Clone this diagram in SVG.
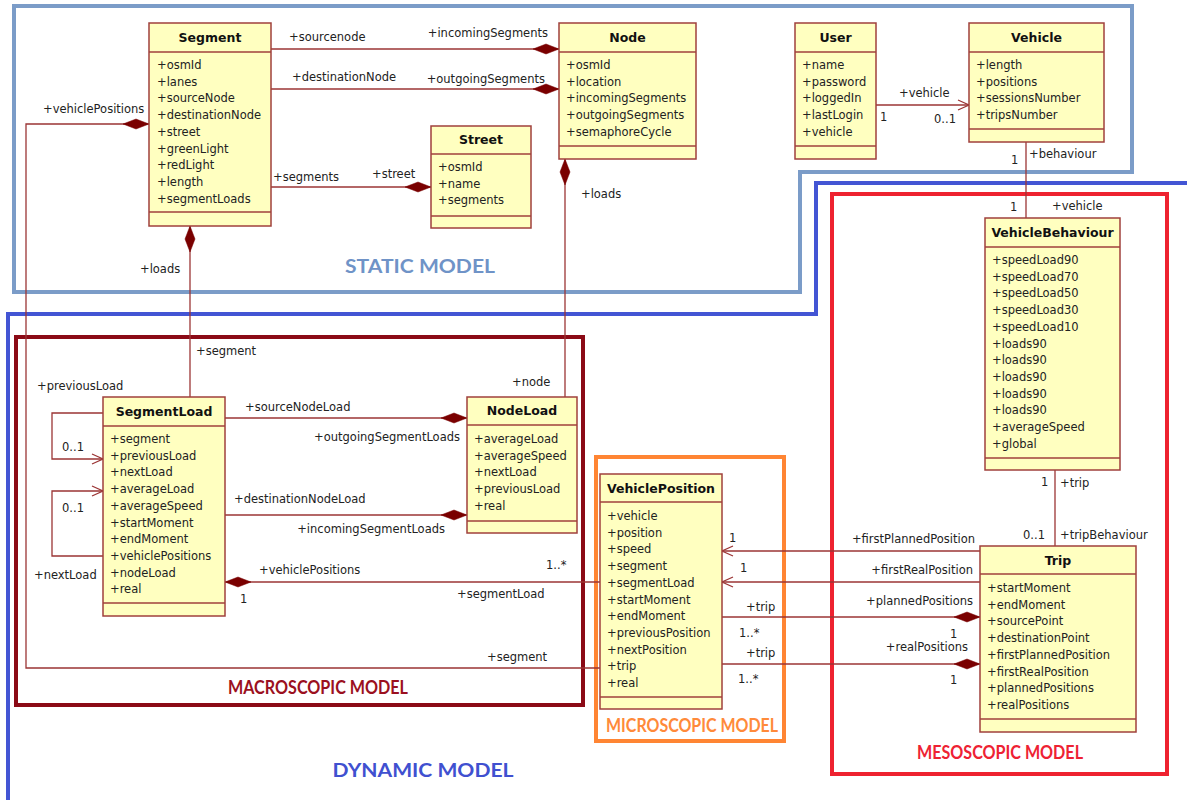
<svg xmlns="http://www.w3.org/2000/svg" width="1187" height="800" viewBox="0 0 1187 800">
<style>
.bg{fill:#ffffff}
.frame{fill:none;stroke-width:4}
.ft{font-family:Lato,"Liberation Sans",sans-serif;font-weight:bold;font-size:18px;text-anchor:middle}
.box{fill:#ffffc0;stroke:#a0403c;stroke-width:1.5}
.sep{stroke:#a0403c;stroke-width:1.5}
.t{font-family:"DejaVu Sans",Verdana,sans-serif;font-size:11.5px;fill:#222}
.h{font-weight:bold;font-size:12.5px;text-anchor:middle;fill:#111}
.e{text-anchor:end}
.c{fill:none;stroke:#9b3535;stroke-width:1.3}
.dm{marker-end:url(#diamond)}
.ar{marker-end:url(#arrow)}
</style>
<defs>
<marker id="diamond" markerUnits="userSpaceOnUse" markerWidth="26" markerHeight="12" viewBox="0 0 26 12" refX="26" refY="6" orient="auto">
<path d="M0,6 L13,1 L26,6 L13,11 Z" fill="#7a0000" stroke="#7a0000" stroke-width="0.5"/>
</marker>
<marker id="arrow" markerUnits="userSpaceOnUse" markerWidth="14" markerHeight="12" viewBox="0 0 14 12" refX="12" refY="6" orient="auto">
<path d="M1,1 L12,6 L1,11" fill="none" stroke="#9b3535" stroke-width="1.3"/>
</marker>
</defs>
<rect class="bg" x="0" y="0" width="1187" height="800"/>

<g id="frames">
<polygon class="frame" stroke="#7b9cc8" points="14,6 1132,6 1132,172 800,172 800,292 14,292"/>
<text class="ft" x="420" y="273" fill="#6f93c7" textLength="150" lengthAdjust="spacingAndGlyphs">STATIC MODEL</text>
<polyline class="frame" stroke="#4355d4" points="1187,183 816,183 816,314 8,314 8,800"/>
<text class="ft" x="423" y="777" fill="#4050d0" textLength="181" lengthAdjust="spacingAndGlyphs">DYNAMIC MODEL</text>
<rect class="frame" stroke="#8b0a16" x="16" y="337" width="567" height="368"/>
<text class="ft" x="318" y="694" fill="#9b1020" font-size="16px" textLength="180" lengthAdjust="spacingAndGlyphs">MACROSCOPIC MODEL</text>
<rect class="frame" stroke="#ff8533" x="596" y="457" width="188" height="284"/>
<text class="ft" x="692" y="732" fill="#ff8a3a" font-size="16px" textLength="172" lengthAdjust="spacingAndGlyphs">MICROSCOPIC MODEL</text>
<rect class="frame" stroke="#ee2230" x="832" y="194" width="335" height="580"/>
<text class="ft" x="1000" y="759" fill="#ee2233" font-size="16px" textLength="166" lengthAdjust="spacingAndGlyphs">MESOSCOPIC MODEL</text>
</g>

<g id="connectors">
<path class="c dm" d="M271,49 H559"/>
<path class="c dm" d="M271,89 H559"/>
<path class="c dm" d="M271,187 H431"/>
<path class="c dm" d="M190,397 V226"/>
<path class="c dm" d="M565,397 V159"/>
<path class="c ar" d="M876,105 H969"/>
<path class="c" d="M1026,142 V218"/>
<path class="c" d="M1055,470 V546"/>
<path class="c ar" d="M980,551 H722"/>
<path class="c ar" d="M980,582 H722"/>
<path class="c dm" d="M722,617 H980"/>
<path class="c dm" d="M722,664 H980"/>
<path class="c dm" d="M600,582 H225"/>
<path class="c dm" d="M600,668 H26 V124 H149"/>
<path class="c dm" d="M225,418 H467"/>
<path class="c dm" d="M225,515 H467"/>
<path class="c ar" d="M103,413 H52 V459 H103"/>
<path class="c ar" d="M103,556 H52 V491 H103"/>
<g class="t">
<text x="289" y="41">+sourcenode</text>
<text class="e" x="548" y="37">+incomingSegments</text>
<text x="292" y="81">+destinationNode</text>
<text class="e" x="545" y="83">+outgoingSegments</text>
<text x="273" y="181">+segments</text>
<text x="372" y="178">+street</text>
<text x="140" y="273">+loads</text>
<text x="43" y="113">+vehiclePositions</text>
<text x="581" y="198">+loads</text>
<text x="899" y="97">+vehicle</text>
<text x="880" y="121">1</text>
<text x="934" y="123">0..1</text>
<text x="1011" y="164">1</text>
<text x="1029" y="158">+behaviour</text>
<text x="1010" y="211">1</text>
<text x="1052" y="210">+vehicle</text>
<text x="1041" y="486">1</text>
<text x="1060" y="487">+trip</text>
<text x="1023" y="539">0..1</text>
<text x="1060" y="539">+tripBehaviour</text>
<text class="e" x="975" y="543">+firstPlannedPosition</text>
<text x="729" y="542">1</text>
<text class="e" x="973" y="574">+firstRealPosition</text>
<text x="740" y="572">1</text>
<text class="e" x="973" y="605">+plannedPositions</text>
<text x="950" y="638">1</text>
<text class="e" x="968" y="651">+realPositions</text>
<text x="950" y="684">1</text>
<text x="746" y="611">+trip</text>
<text x="739" y="637">1..*</text>
<text x="746" y="657">+trip</text>
<text x="738" y="683">1..*</text>
<text x="259" y="574">+vehiclePositions</text>
<text x="240" y="603">1</text>
<text x="546" y="569">1..*</text>
<text x="457" y="598">+segmentLoad</text>
<text x="487" y="661">+segment</text>
<text x="245" y="411">+sourceNodeLoad</text>
<text class="e" x="460" y="441">+outgoingSegmentLoads</text>
<text x="234" y="503">+destinationNodeLoad</text>
<text class="e" x="445" y="533">+incomingSegmentLoads</text>
<text x="512" y="386">+node</text>
<text x="196" y="355">+segment</text>
<text x="37" y="390">+previousLoad</text>
<text x="62" y="451">0..1</text>
<text x="62" y="512">0..1</text>
<text x="34" y="579">+nextLoad</text>
</g>
</g>

<g id="Segment">
<rect class="box" x="149" y="23" width="122" height="203"/>
<line class="sep" x1="149" y1="52" x2="271" y2="52"/>
<line class="sep" x1="149" y1="212" x2="271" y2="212"/>
<text class="t h" x="210" y="42">Segment</text>
<g class="t">
<text x="157" y="69">+osmId</text>
<text x="157" y="85.7">+lanes</text>
<text x="157" y="102.4">+sourceNode</text>
<text x="157" y="119.1">+destinationNode</text>
<text x="157" y="135.8">+street</text>
<text x="157" y="152.5">+greenLight</text>
<text x="157" y="169.2">+redLight</text>
<text x="157" y="185.9">+length</text>
<text x="157" y="202.6">+segmentLoads</text>
</g>
</g>

<g id="Node">
<rect class="box" x="559" y="23" width="137" height="136"/>
<line class="sep" x1="559" y1="52" x2="696" y2="52"/>
<line class="sep" x1="559" y1="146" x2="696" y2="146"/>
<text class="t h" x="627.5" y="42">Node</text>
<g class="t">
<text x="566" y="69">+osmId</text>
<text x="566" y="85.7">+location</text>
<text x="566" y="102.4">+incomingSegments</text>
<text x="566" y="119.1">+outgoingSegments</text>
<text x="566" y="135.8">+semaphoreCycle</text>
</g>
</g>

<g id="Street">
<rect class="box" x="431" y="126" width="100" height="102"/>
<line class="sep" x1="431" y1="154" x2="531" y2="154"/>
<line class="sep" x1="431" y1="216" x2="531" y2="216"/>
<text class="t h" x="481" y="144">Street</text>
<g class="t">
<text x="438" y="171">+osmId</text>
<text x="438" y="187.7">+name</text>
<text x="438" y="204.4">+segments</text>
</g>
</g>

<g id="User">
<rect class="box" x="795" y="23" width="81" height="136"/>
<line class="sep" x1="795" y1="52" x2="876" y2="52"/>
<line class="sep" x1="795" y1="146" x2="876" y2="146"/>
<text class="t h" x="835.5" y="42">User</text>
<g class="t">
<text x="802" y="69">+name</text>
<text x="802" y="85.7">+password</text>
<text x="802" y="102.4">+loggedIn</text>
<text x="802" y="119.1">+lastLogin</text>
<text x="802" y="135.8">+vehicle</text>
</g>
</g>

<g id="Vehicle">
<rect class="box" x="969" y="23" width="135" height="119"/>
<line class="sep" x1="969" y1="52" x2="1104" y2="52"/>
<line class="sep" x1="969" y1="129" x2="1104" y2="129"/>
<text class="t h" x="1036.5" y="42">Vehicle</text>
<g class="t">
<text x="976" y="69">+length</text>
<text x="976" y="85.7">+positions</text>
<text x="976" y="102.4">+sessionsNumber</text>
<text x="976" y="119.1">+tripsNumber</text>
</g>
</g>

<g id="VehicleBehaviour">
<rect class="box" x="985" y="218" width="135" height="252"/>
<line class="sep" x1="985" y1="247" x2="1120" y2="247"/>
<line class="sep" x1="985" y1="458" x2="1120" y2="458"/>
<text class="t h" x="1052.5" y="237">VehicleBehaviour</text>
<g class="t">
<text x="992" y="264">+speedLoad90</text>
<text x="992" y="280.7">+speedLoad70</text>
<text x="992" y="297.4">+speedLoad50</text>
<text x="992" y="314.1">+speedLoad30</text>
<text x="992" y="330.8">+speedLoad10</text>
<text x="992" y="347.5">+loads90</text>
<text x="992" y="364.2">+loads90</text>
<text x="992" y="380.9">+loads90</text>
<text x="992" y="397.6">+loads90</text>
<text x="992" y="414.3">+loads90</text>
<text x="992" y="431">+averageSpeed</text>
<text x="992" y="447.7">+global</text>
</g>
</g>

<g id="Trip">
<rect class="box" x="980" y="546" width="156" height="186"/>
<line class="sep" x1="980" y1="574" x2="1136" y2="574"/>
<line class="sep" x1="980" y1="719" x2="1136" y2="719"/>
<text class="t h" x="1058" y="565">Trip</text>
<g class="t">
<text x="987" y="592">+startMoment</text>
<text x="987" y="608.7">+endMoment</text>
<text x="987" y="625.4">+sourcePoint</text>
<text x="987" y="642.1">+destinationPoint</text>
<text x="987" y="658.8">+firstPlannedPosition</text>
<text x="987" y="675.5">+firstRealPosition</text>
<text x="987" y="692.2">+plannedPositions</text>
<text x="987" y="708.9">+realPositions</text>
</g>
</g>

<g id="SegmentLoad">
<rect class="box" x="103" y="397" width="122" height="219"/>
<line class="sep" x1="103" y1="426" x2="225" y2="426"/>
<line class="sep" x1="103" y1="603" x2="225" y2="603"/>
<text class="t h" x="164" y="416">SegmentLoad</text>
<g class="t">
<text x="110" y="443">+segment</text>
<text x="110" y="459.7">+previousLoad</text>
<text x="110" y="476.4">+nextLoad</text>
<text x="110" y="493.1">+averageLoad</text>
<text x="110" y="509.8">+averageSpeed</text>
<text x="110" y="526.5">+startMoment</text>
<text x="110" y="543.2">+endMoment</text>
<text x="110" y="559.9">+vehiclePositions</text>
<text x="110" y="576.6">+nodeLoad</text>
<text x="110" y="593.3">+real</text>
</g>
</g>

<g id="NodeLoad">
<rect class="box" x="467" y="397" width="110" height="136"/>
<line class="sep" x1="467" y1="425" x2="577" y2="425"/>
<line class="sep" x1="467" y1="521" x2="577" y2="521"/>
<text class="t h" x="522" y="415">NodeLoad</text>
<g class="t">
<text x="474" y="443">+averageLoad</text>
<text x="474" y="459.7">+averageSpeed</text>
<text x="474" y="476.4">+nextLoad</text>
<text x="474" y="493.1">+previousLoad</text>
<text x="474" y="509.8">+real</text>
</g>
</g>

<g id="VehiclePosition">
<rect class="box" x="600" y="474" width="122" height="235"/>
<line class="sep" x1="600" y1="502" x2="722" y2="502"/>
<line class="sep" x1="600" y1="697" x2="722" y2="697"/>
<text class="t h" x="661" y="493">VehiclePosition</text>
<g class="t">
<text x="607" y="520">+vehicle</text>
<text x="607" y="536.7">+position</text>
<text x="607" y="553.4">+speed</text>
<text x="607" y="570.1">+segment</text>
<text x="607" y="586.8">+segmentLoad</text>
<text x="607" y="603.5">+startMoment</text>
<text x="607" y="620.2">+endMoment</text>
<text x="607" y="636.9">+previousPosition</text>
<text x="607" y="653.6">+nextPosition</text>
<text x="607" y="670.3">+trip</text>
<text x="607" y="687">+real</text>
</g>
</g>
</svg>
